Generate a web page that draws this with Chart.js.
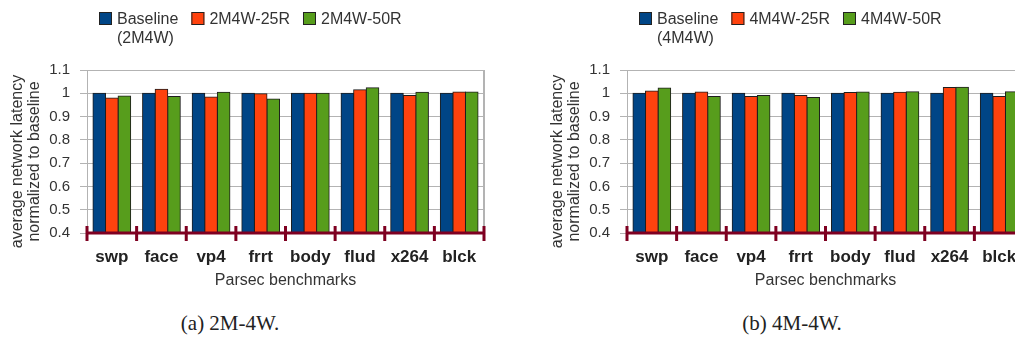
<!DOCTYPE html>
<html>
<head>
<meta charset="utf-8">
<script src="https://cdn.jsdelivr.net/npm/chart.js@4"></script>
<style>
html, body { margin: 0; padding: 0; background: #fff; overflow: hidden; }
body { width: 1015px; height: 342px; position: relative; }
.wrap { position: absolute; top: 0; width: 500px; height: 300px; }
#wa { left: 0; }
#wb { left: 540px; }
.cap { position: absolute; top: 311px; font-family: 'Liberation Serif', 'DejaVu Serif', serif; font-size: 21px; color: #222; transform: translateX(-50%); white-space: nowrap; }
</style>
</head>
<body>
<div class="wrap" id="wa"><canvas id="chartA" width="500" height="300"></canvas></div>
<div class="wrap" id="wb"><canvas id="chartB" width="500" height="300"></canvas></div>
<div class="cap" style="left:230px">(a) 2M-4W.</div>
<div class="cap" style="left:792px">(b) 4M-4W.</div>
<script>
const benchmarks = ['swp', 'face', 'vp4', 'frrt', 'body', 'flud', 'x264', 'blck'];

// (a) 2M-4W
const base2M = [1, 1, 1, 1, 1, 1, 1, 1];
const r25_2M = [0.980, 1.017, 0.984, 0.998, 1.000, 1.015, 0.990, 1.006];
const r50_2M = [0.988, 0.986, 1.004, 0.975, 1.000, 1.024, 1.004, 1.006];
const labels2M = [['Baseline', '(2M4W)'], ['2M4W-25R'], ['2M4W-50R']];

// (b) 4M-4W
const base4M = [1, 1, 1, 1, 1, 1, 1, 1];
const r25_4M = [1.010, 1.006, 0.986, 0.990, 1.003, 1.004, 1.025, 0.986];
const r50_4M = [1.023, 0.986, 0.990, 0.982, 1.006, 1.007, 1.026, 1.007];
const labels4M = [['Baseline', '(4M4W)'], ['4M4W-25R'], ['4M4W-50R']];

const yMin = 0.4, yMax = 1.1, yStep = 0.1;
const yTitle = ['average network latency', 'normalized to baseline'];
const xTitle = 'Parsec benchmarks';

const colors = ['#004586', '#ff420e', '#579d1c'];
const axisRed = '#7e0021';
const gridGray = '#b3b3b3';
const FONT = "'Liberation Sans', Arial, sans-serif";

// legend, y title, bottom axis with ticks and right frame
const decor = {
    id: 'decor',
    afterDatasetsDraw(chart) {
        const ctx = chart.ctx, a = chart.chartArea, xs = chart.scales.x;
        ctx.save();
        ctx.strokeStyle = gridGray;
        ctx.lineWidth = 2;
        ctx.beginPath();
        ctx.moveTo(a.right, a.top);
        ctx.lineTo(a.right, a.bottom);
        ctx.stroke();

        ctx.strokeStyle = axisRed;
        ctx.lineWidth = 3;
        ctx.beginPath();
        ctx.moveTo(a.left, a.bottom);
        ctx.lineTo(a.right, a.bottom);
        const n = chart.data.labels.length;
        const half = (xs.getPixelForValue(1) - xs.getPixelForValue(0)) / 2;
        for (let i = 0; i <= n; i++) {
            const x = i < n ? xs.getPixelForValue(i) - half : xs.getPixelForValue(n - 1) + half;
            ctx.moveTo(x, a.bottom - 7);
            ctx.lineTo(x, a.bottom + 8);
        }
        ctx.stroke();
        ctx.restore();
    },
    afterDraw(chart) {
        const ctx = chart.ctx, a = chart.chartArea;
        ctx.save();
        ctx.font = '16px ' + FONT;
        ctx.textBaseline = 'middle';
        let x = a.left + 12;
        chart.data.datasets.forEach(ds => {
            ctx.fillStyle = ds.backgroundColor;
            ctx.fillRect(x, 12, 13, 13);
            ctx.strokeStyle = '#222';
            ctx.lineWidth = 1;
            ctx.strokeRect(x + 0.5, 12.5, 12, 12);
            ctx.fillStyle = '#333';
            let w = 0;
            ds.legendLines.forEach((t, j) => {
                ctx.fillText(t, x + 18, 20 + j * 19);
                w = Math.max(w, ctx.measureText(t).width);
            });
            x += 18 + w + 13;
        });

        // y title, two lines, rotated
        ctx.translate(0, (a.top + a.bottom) / 2 + 10);
        ctx.rotate(-Math.PI / 2);
        ctx.textAlign = 'center';
        ctx.fillStyle = '#333';
        yTitle.forEach((t, j) => ctx.fillText(t, 0, 18 + j * 17));
        ctx.restore();
    }
};

function makeChart(id, series, names) {
    return new Chart(document.getElementById(id), {
        type: 'bar',
        data: {
            labels: benchmarks,
            datasets: series.map((s, i) => ({
                label: names[i].join(' '),
                legendLines: names[i],
                data: s,
                backgroundColor: colors[i],
                borderColor: '#1e1e1e',
                borderWidth: 1,
                inflateAmount: 0.5,
                categoryPercentage: 0.76,
                barPercentage: 1.0
            }))
        },
        options: {
            responsive: false,
            animation: false,
            layout: { padding: { top: 70, right: 16, bottom: 10, left: 0 } },
            plugins: { legend: { display: false }, tooltip: { enabled: false } },
            scales: {
                x: {
                    grid: { display: false },
                    border: { display: false },
                    ticks: { padding: 6, color: '#222', font: { family: FONT, size: 17, weight: 'bold' } },
                    title: { display: true, text: xTitle, color: '#333', padding: { top: 4, bottom: 0 }, font: { family: FONT, size: 16 } },
                    afterFit: s => { s.height = 57; }
                },
                y: {
                    min: yMin,
                    max: yMax,
                    ticks: {
                        stepSize: yStep,
                        padding: 10,
                        color: '#333',
                        font: { family: FONT, size: 15 },
                        callback: v => String(+v.toFixed(1))
                    },
                    grid: { color: gridGray, lineWidth: 1, tickLength: 7 },
                    border: { color: gridGray, width: 1 },
                    title: { display: false },
                    afterFit: s => { s.width = 87; }
                }
            }
        },
        plugins: [decor]
    });
}

makeChart('chartA', [base2M, r25_2M, r50_2M], labels2M);
makeChart('chartB', [base4M, r25_4M, r50_4M], labels4M);
</script>
</body>
</html>
